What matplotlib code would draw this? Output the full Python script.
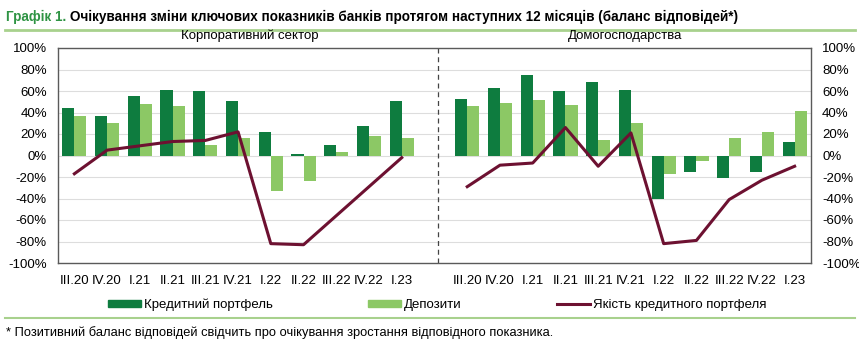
import matplotlib
matplotlib.use('Agg')
import matplotlib.pyplot as plt
from matplotlib.lines import Line2D
from matplotlib.patches import Patch
import numpy as np

plt.rcParams['font.family'] = ['Liberation Sans', 'DejaVu Sans']

# Квартали (однакові для обох секторів)
quarters = ['III.20', 'IV.20', 'I.21', 'II.21', 'III.21', 'IV.21',
            'I.22', 'II.22', 'III.22', 'IV.22', 'I.23']

# Корпоративний сектор
corp_credit = [44, 37, 55, 61, 60, 51, 22, 1, 10, 27, 51]
corp_deposits = [37, 30, 48, 46, 10, 16, -33, -24, 3, 18, 16]
corp_quality = [-17, 5, 9, 13, 14, 22, -82, -83, -56, -29, -2]

# Домогосподарства
hh_credit = [53, 63, 75, 60, 68, 61, -40, -15, -21, -15, 13]
hh_deposits = [46, 49, 52, 47, 14, 30, -17, -5, 16, 22, 41]
hh_quality = [-29, -9, -7, 26, -10, 21, -82, -79, -41, -23, -10]

dark_green = '#0E7C3F'
light_green = '#8CC865'
maroon = '#6D1131'
sep_green = '#A8D18D'

fig = plt.figure(figsize=(8.59, 3.47), dpi=100)
ax = fig.add_axes([58 / 859, 1 - 263 / 347, 753 / 859, 215 / 347])

n = len(quarters)
x_left = np.arange(n)
x_right = np.arange(n) + n + 1
w = 0.37

for xs, cr, dep, q in [(x_left, corp_credit, corp_deposits, corp_quality),
                       (x_right, hh_credit, hh_deposits, hh_quality)]:
    ax.bar(xs - w / 2, cr, width=w, color=dark_green, zorder=2)
    ax.bar(xs + w / 2, dep, width=w, color=light_green, zorder=2)
    ax.plot(xs, q, color=maroon, linewidth=2.2, zorder=3)

ax.axvline(n + 0.1, color='#444444', linestyle=(0, (4, 3)), linewidth=0.9, zorder=1)

ax.set_xlim(-0.5, 2 * n + 0.5)
ax.set_ylim(-100, 100)
ax.set_yticks(range(-100, 101, 20))
ax.set_yticklabels([f'{v}%' for v in range(-100, 101, 20)])
ax.set_xticks(np.concatenate([x_left, x_right]))
ax.set_xticklabels(quarters + quarters)
ax.tick_params(axis='both', length=0, labelsize=9.5, colors='black')
ax.tick_params(axis='y', labelright=True, pad=8)
ax.tick_params(axis='x', pad=9)
ax.yaxis.grid(True, color='#DDDDDD', linewidth=0.8, zorder=0)
ax.set_axisbelow(True)
for s in ax.spines.values():
    s.set_color('#5A5A5A')
    s.set_linewidth(1.0)

# Підзаголовки секторів
fig.text(250 / 859, 1 - 36 / 347, 'Корпоративний сектор', ha='center', va='center', fontsize=9.5)
fig.text(625 / 859, 1 - 36 / 347, 'Домогосподарства', ha='center', va='center', fontsize=9.5)

# Заголовок
t1 = fig.text(6 / 859, 1 - 17 / 347, 'Графік 1. ', color='#2F9444', fontsize=9.75,
              fontweight='bold', va='center')
fig.canvas.draw()
bb = t1.get_window_extent()
fig.text(bb.x1 / 859, 1 - 17 / 347,
         'Очікування зміни ключових показників банків протягом наступних 12 місяців (баланс відповідей*)',
         color='black', fontsize=9.75, fontweight='bold', va='center')

# Розділові лінії
fig.add_artist(Line2D([5 / 859, 855 / 859], [1 - 30 / 347, 1 - 30 / 347],
                      color=sep_green, linewidth=2))
fig.add_artist(Line2D([5 / 859, 855 / 859], [1 - 318 / 347, 1 - 318 / 347],
                      color=sep_green, linewidth=1.5))

# Легенда: три окремі елементи
legend_items = [
    (Patch(color=dark_green), 'Кредитний портфель', 108),
    (Patch(color=light_green), 'Депозити', 368),
    (Line2D([], [], color=maroon, linewidth=2.2), 'Якість кредитного портфеля', 557),
]
for handle, label, xpos in legend_items:
    fig.legend([handle], [label], loc='center left',
               bbox_to_anchor=(xpos / 859, 1 - 305 / 347),
               frameon=False, fontsize=9.5, handlelength=2.5, handleheight=0.45,
               handletextpad=0.25, borderpad=0, borderaxespad=0)

fig.text(6 / 859, 1 - 333 / 347,
         '* Позитивний баланс відповідей свідчить про очікування зростання відповідного показника.',
         fontsize=9.3, va='center')

fig.savefig('out.png', dpi=100)
